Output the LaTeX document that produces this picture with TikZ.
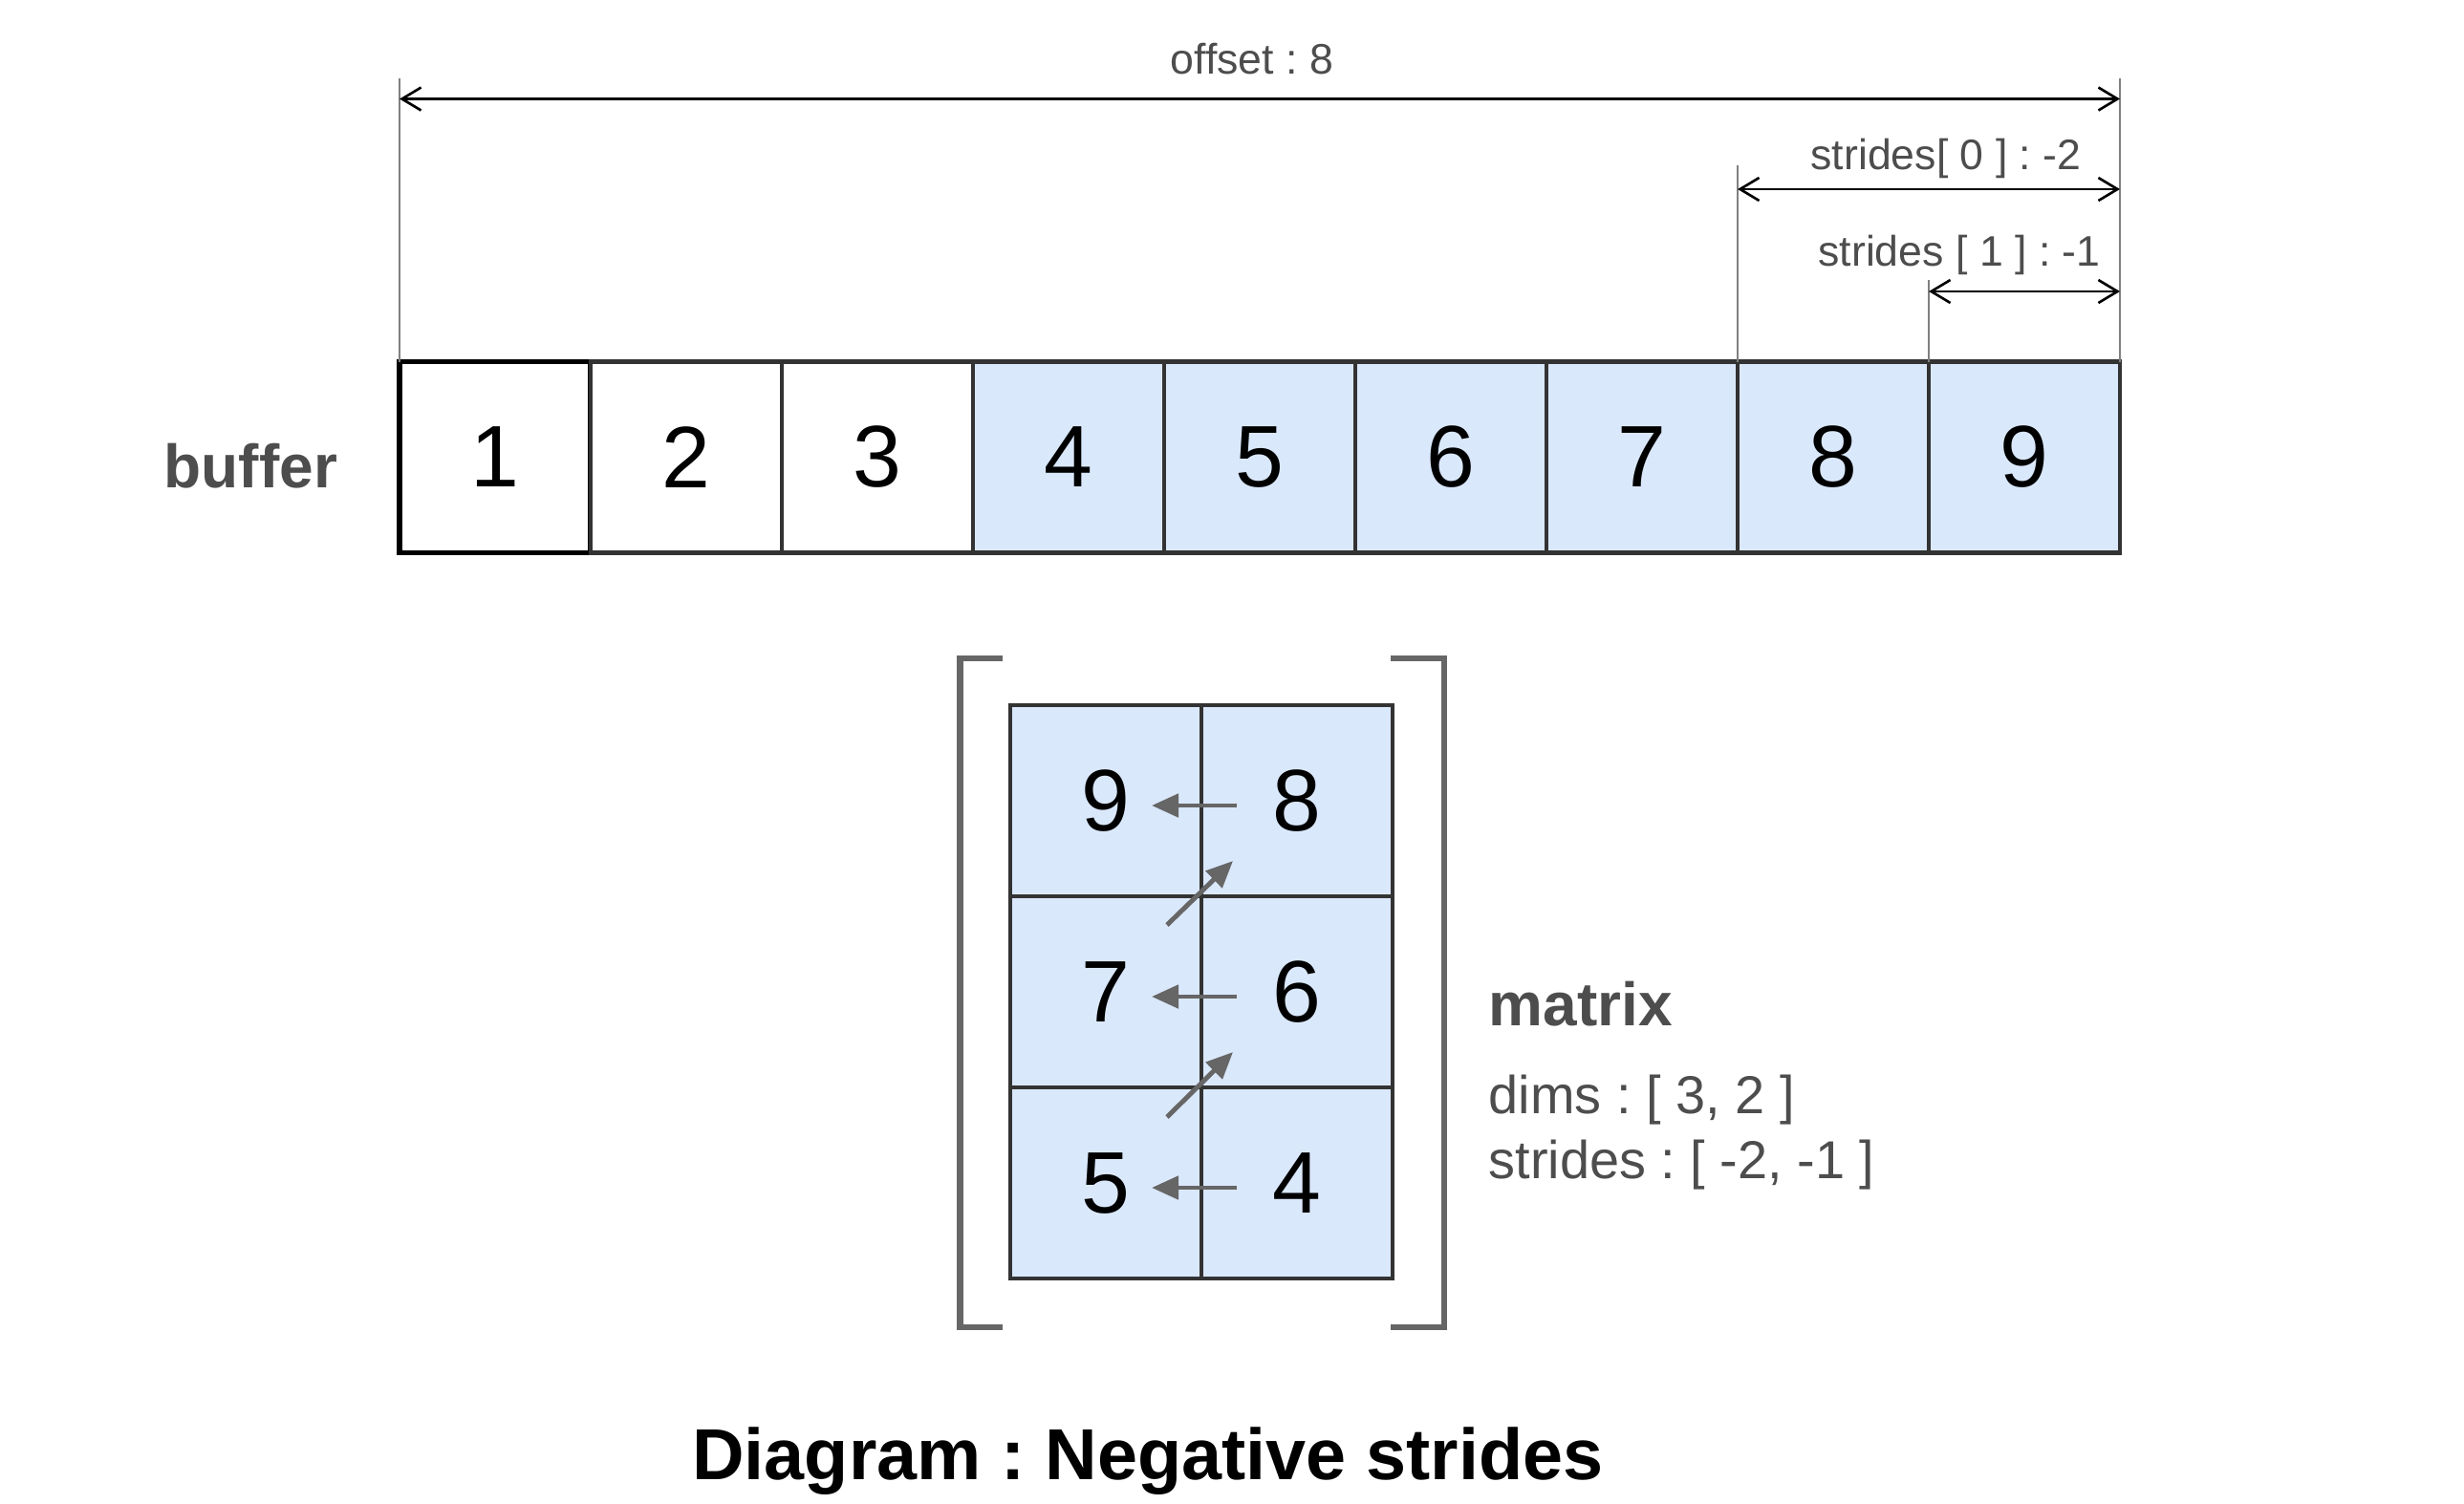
\documentclass[tikz,border=0pt]{standalone}
\usepackage{fontspec}
\setmainfont{Liberation Sans}
\frenchspacing
\usetikzlibrary{arrows.meta,calc}
\definecolor{CellBlue}{HTML}{DAE8FC}
\definecolor{CellLine}{HTML}{333333}
\definecolor{LabelGray}{HTML}{4D4D4D}
\definecolor{ExtGray}{HTML}{808080}
\definecolor{WalkGray}{HTML}{666666}
\tikzset{
  cell/.style={
    draw=CellLine, line width=1.4pt, fill=white, outer sep=0pt,
    minimum size=2cm, inner sep=0pt, font=\fontsize{26}{30}\selectfont
  },
  bluecell/.style={cell, fill=CellBlue},
  firstcell/.style={cell, draw=black, line width=1.6pt},
  dimline/.style={
    {Straight Barb[length=2mm,width=2.4mm]}-{Straight Barb[length=2mm,width=2.4mm]},
    line width=0.75pt, draw=black
  },
  extline/.style={line width=0.5pt, draw=ExtGray},
  walk/.style={-{Triangle[length=2.8mm,width=2.4mm]}, line width=1.4pt, draw=WalkGray},
  bracket/.style={line width=1.9pt, draw=WalkGray},
  dimlabel/.style={anchor=base, inner sep=0pt, text=LabelGray,
    font=\fontsize{12.7}{15}\selectfont},
  headlabel/.style={anchor=base west, inner sep=0pt, text=LabelGray,
    font=\bfseries\fontsize{18.2}{22}\selectfont},
  infolabel/.style={anchor=base west, inner sep=0pt, text=LabelGray,
    font=\fontsize{15.9}{19}\selectfont}
}
\begin{document}
\begin{tikzpicture}[x=1cm,y=1cm]
  \fill[white] (0,0) rectangle (25.78,-15.73);
  \useasboundingbox (0,0) rectangle (25.78,-15.73);

  % buffer
  \node[headlabel] (buflabel) at (1.71,-5.10) {buffer};
  \node[firstcell] (b1) at (5.18,-4.785) {1};
  \node[cell] (b2) at (7.18,-4.785) {2};
  \node[cell] (b3) at (9.18,-4.785) {3};
  \node[bluecell] (b4) at (11.18,-4.785) {4};
  \node[bluecell] (b5) at (13.18,-4.785) {5};
  \node[bluecell] (b6) at (15.18,-4.785) {6};
  \node[bluecell] (b7) at (17.18,-4.785) {7};
  \node[bluecell] (b8) at (19.18,-4.785) {8};
  \node[bluecell] (b9) at (21.18,-4.785) {9};

  % dimension lines above the buffer
  \draw[extline] (b1.north west) -- ++(0,2.965);
  \draw[extline] (b9.north east) -- ++(0,2.965);
  \draw[extline] (b8.north west) -- ++(0,2.055);
  \draw[extline] (b9.north west) -- ++(0,0.855);
  \coordinate (offL) at ($(b1.north west)+(0,2.75)$);
  \coordinate (offR) at ($(b9.north east)+(0,2.75)$);
  \coordinate (sz0L) at ($(b8.north west)+(0,1.805)$);
  \coordinate (sz0R) at ($(b9.north east)+(0,1.805)$);
  \coordinate (sz1L) at ($(b9.north west)+(0,0.735)$);
  \coordinate (sz1R) at ($(b9.north east)+(0,0.735)$);
  \draw[dimline] (offL) -- (offR);
  \draw[dimline] (sz0L) -- (sz0R);
  \draw[dimline] (sz1L) -- (sz1R);
  \node[dimlabel] (offtext) at (13.10,-0.77) {offset : 8};
  \node[dimlabel] (sz0text) at (20.36,-1.77) {strides[ 0 ] : -2};
  \node[dimlabel] (sz1text) at (20.50,-2.78) {strides [ 1 ] : -1};

  % matrix view
  \node[bluecell] (m9) at (11.57,-8.38) {9};
  \node[bluecell] (m8) at (13.57,-8.38) {8};
  \node[bluecell] (m7) at (11.57,-10.38) {7};
  \node[bluecell] (m6) at (13.57,-10.38) {6};
  \node[bluecell] (m5) at (11.57,-12.38) {5};
  \node[bluecell] (m4) at (13.57,-12.38) {4};

  \draw[bracket] (10.49,-6.89) -- (10.045,-6.89) -- (10.045,-13.89) -- (10.49,-13.89);
  \draw[bracket] (14.55,-6.89) -- (15.11,-6.89) -- (15.11,-13.89) -- (14.55,-13.89);

  \draw[walk] ([shift={(-0.63,-0.05)}]m4.center) -- ([shift={(0.48,-0.05)}]m5.center);
  \draw[walk] ([shift={(0.64,0.69)}]m5.center) -- ([shift={(-0.67,-0.63)}]m6.center);
  \draw[walk] ([shift={(-0.63,-0.05)}]m6.center) -- ([shift={(0.48,-0.05)}]m7.center);
  \draw[walk] ([shift={(0.64,0.70)}]m7.center) -- ([shift={(-0.67,-0.63)}]m8.center);
  \draw[walk] ([shift={(-0.63,-0.05)}]m8.center) -- ([shift={(0.48,-0.05)}]m9.center);

  \node[headlabel] (mathead) at (15.57,-10.73) {matrix};
  \node[infolabel] (matdims) at (15.57,-11.65) {dims : [ 3, 2 ]};
  \node[infolabel] (matstrides) at (15.57,-12.33) {strides : [ -2, -1 ]};

  \node[anchor=base, inner sep=0pt, font=\bfseries\fontsize{21.5}{26}\selectfont]
    (title) at (12.01,-15.48) {Diagram : Negative strides};
\end{tikzpicture}
\end{document}
